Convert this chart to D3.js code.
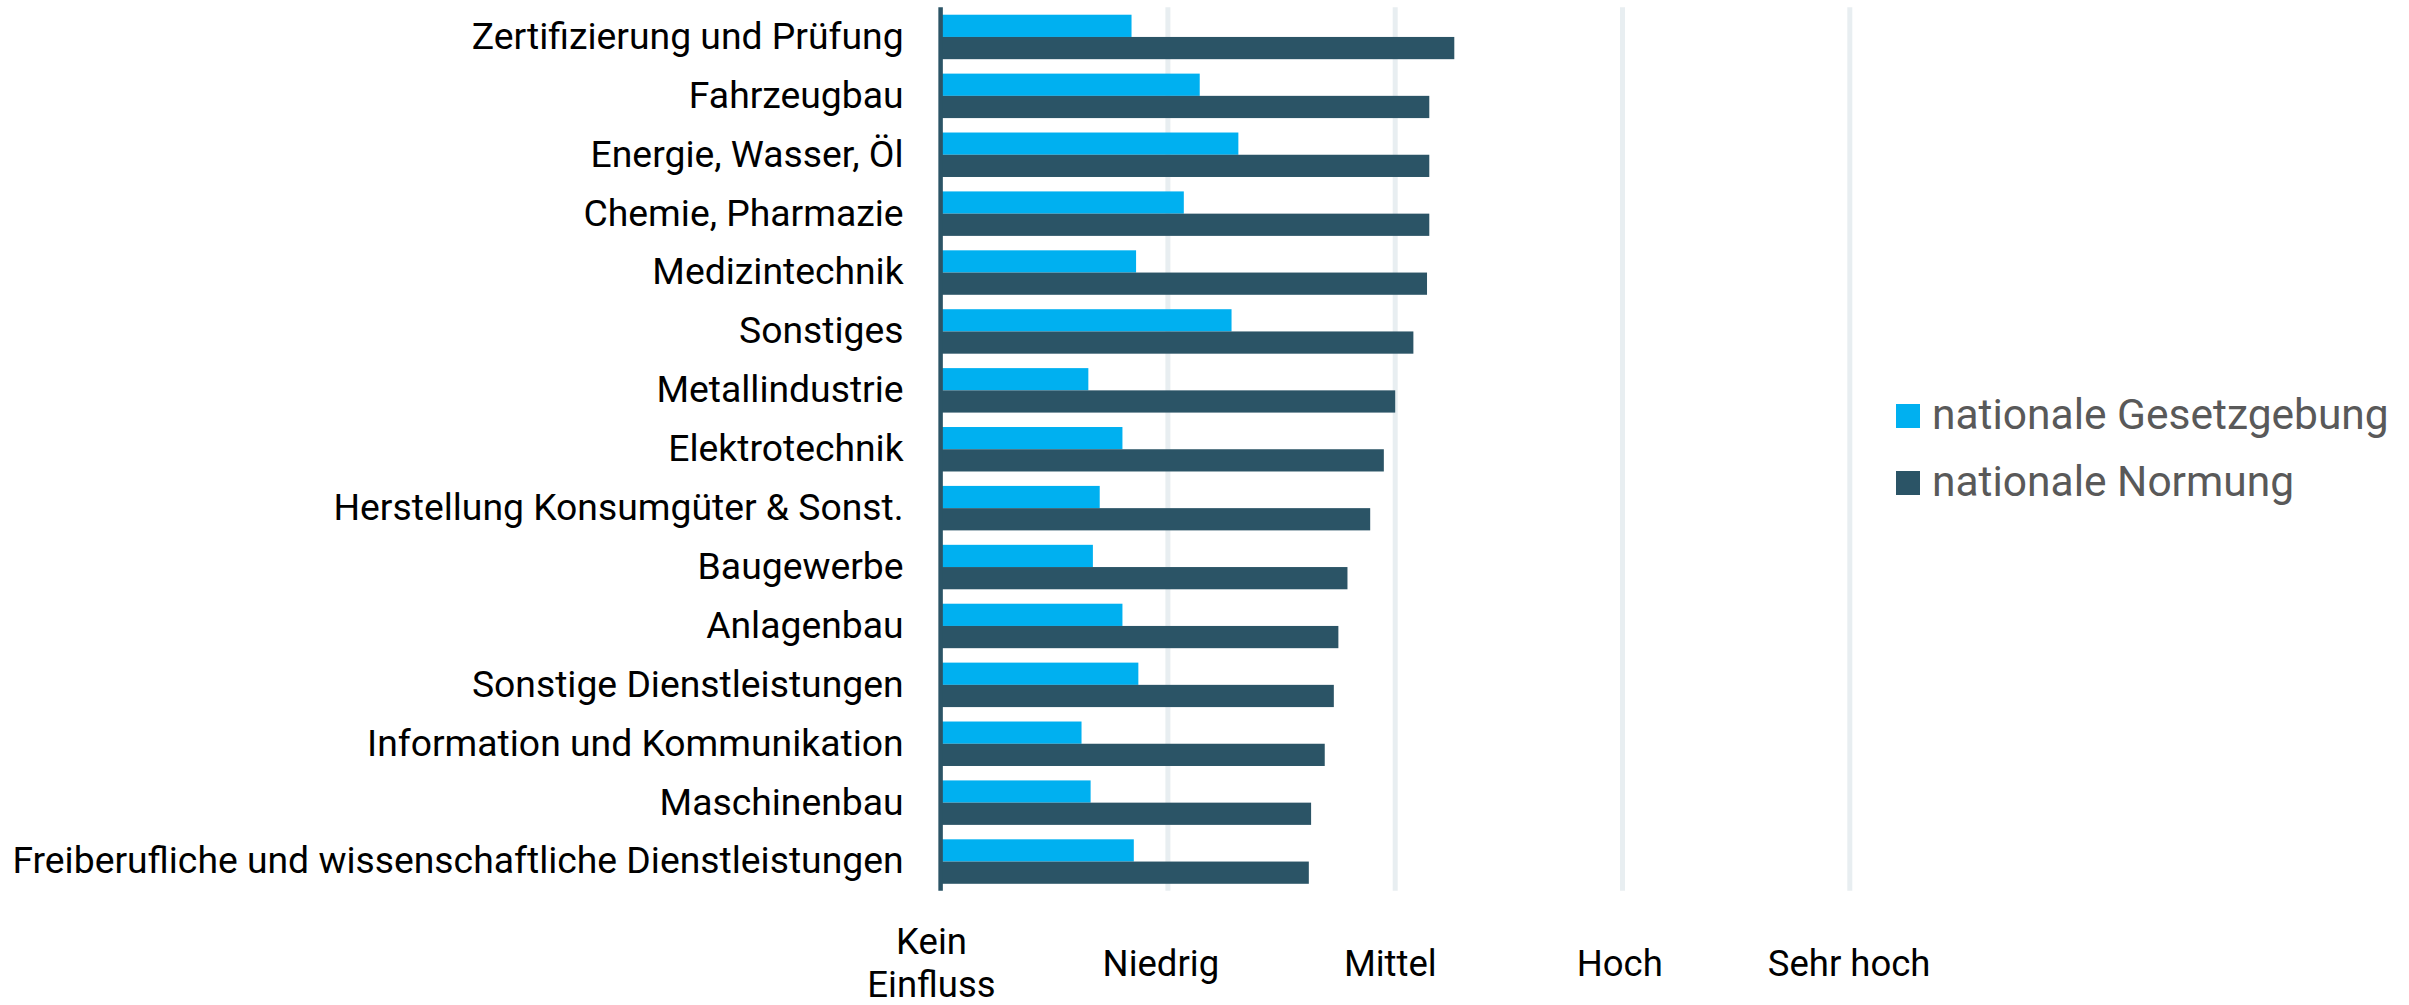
<!DOCTYPE html>
<html>
<head>
<meta charset="utf-8">
<script src="https://cdn.jsdelivr.net/npm/d3@7"></script>
<style>
  html, body { margin: 0; padding: 0; background: #fff; }
  svg { display: block; font-family: Roboto, "Noto Sans", sans-serif; }
</style>
</head>
<body>
<div id="chart"></div>
<script>
const categories = [
  "Zertifizierung und Prüfung",
  "Fahrzeugbau",
  "Energie, Wasser, Öl",
  "Chemie, Pharmazie",
  "Medizintechnik",
  "Sonstiges",
  "Metallindustrie",
  "Elektrotechnik",
  "Herstellung Konsumgüter & Sonst.",
  "Baugewerbe",
  "Anlagenbau",
  "Sonstige Dienstleistungen",
  "Information und Kommunikation",
  "Maschinenbau",
  "Freiberufliche und wissenschaftliche Dienstleistungen"
];
const seriesNames = ["nationale Gesetzgebung", "nationale Normung"];
const gesetzgebung = [0.84, 1.14, 1.31, 1.07, 0.86, 1.28, 0.65, 0.80, 0.70, 0.67, 0.80, 0.87, 0.62, 0.66, 0.85];
const normung = [2.26, 2.15, 2.15, 2.15, 2.14, 2.08, 2.00, 1.95, 1.89, 1.79, 1.75, 1.73, 1.69, 1.63, 1.62];
const levelLabels = ["Kein Einfluss", "Niedrig", "Mittel", "Hoch", "Sehr hoch"];

const width = 2409;
const height = 1005;
const dark = "#2b5466";
const light = "#00b0f0";

const svg = d3.select("#chart").append("svg")
  .attr("width", width)
  .attr("height", height);

const x = d3.scaleLinear()
  .domain([0, 4])
  .range([940.6, 1849.8]);

// the level names sit slightly left of their gridlines
const xLabel = d3.scaleLinear()
  .domain([0, 4])
  .range([931, 1848.6]);

const y = d3.scaleBand()
  .domain(categories)
  .range([7.5, 891])
  .paddingInner(0.245)
  .paddingOuter(0.1225);

const ySub = d3.scaleBand()
  .domain(seriesNames)
  .range([0, y.bandwidth()]);

const color = d3.scaleOrdinal().domain(seriesNames).range([light, dark]);

// gridlines
svg.append("g")
  .selectAll("line")
  .data([1, 2, 3, 4])
  .join("line")
  .attr("x1", d => x(d))
  .attr("x2", d => x(d))
  .attr("y1", 7.3)
  .attr("y2", 890.7)
  .attr("stroke", "#e8eef1")
  .attr("stroke-width", 5);

// bars
const rows = categories.map((c, i) => ({
  cat: c,
  values: [
    { key: seriesNames[0], v: gesetzgebung[i] },
    { key: seriesNames[1], v: normung[i] }
  ]
}));

svg.append("g")
  .selectAll("g")
  .data(rows)
  .join("g")
  .attr("transform", d => `translate(0,${y(d.cat)})`)
  .selectAll("rect")
  .data(d => d.values)
  .join("rect")
  .attr("x", x(0))
  .attr("y", d => ySub(d.key))
  .attr("width", d => x(d.v) - x(0))
  .attr("height", ySub.bandwidth())
  .attr("fill", d => color(d.key));

// vertical axis line
svg.append("line")
  .attr("x1", x(0))
  .attr("x2", x(0))
  .attr("y1", 7.3)
  .attr("y2", 890.7)
  .attr("stroke", dark)
  .attr("stroke-width", 4.5);

// category labels
const yAxis = svg.append("g")
  .attr("transform", `translate(${x(0)},0)`)
  .call(d3.axisLeft(y).tickSize(0).tickPadding(37));
yAxis.select(".domain").remove();
yAxis.selectAll("text")
  .attr("font-size", "37.3px")
  .attr("font-family", "Roboto, sans-serif")
  .attr("fill", "#000");

// level labels on x axis
const xAxis = svg.append("g")
  .attr("transform", "translate(0,976)")
  .call(d3.axisBottom(xLabel).tickValues([0, 1, 2, 3, 4]).tickSize(0).tickFormat(d => levelLabels[d]));
xAxis.select(".domain").remove();
xAxis.selectAll("text")
  .attr("y", 0)
  .attr("dy", 0)
  .attr("font-size", "36.5px")
  .attr("font-family", "Roboto, sans-serif")
  .attr("fill", "#000")
  .each(function(d) {
    const words = levelLabels[d].split(" ");
    if (d === 0) {
      const t = d3.select(this).text(null);
      t.append("tspan").attr("x", 0).attr("y", -22).text(words[0]);
      t.append("tspan").attr("x", 0).attr("y", 21).text(words[1]);
    }
  });

// legend
const legend = svg.append("g")
  .selectAll("g")
  .data(seriesNames)
  .join("g")
  .attr("transform", (d, i) => `translate(1896,${404 + i * 67})`);

legend.append("rect")
  .attr("width", 24)
  .attr("height", 24)
  .attr("fill", d => color(d));

legend.append("text")
  .attr("x", 36)
  .attr("y", 25.3)
  .attr("font-size", "42.5px")
  .attr("fill", "#595959")
  .text(d => d);
</script>
</body>
</html>
